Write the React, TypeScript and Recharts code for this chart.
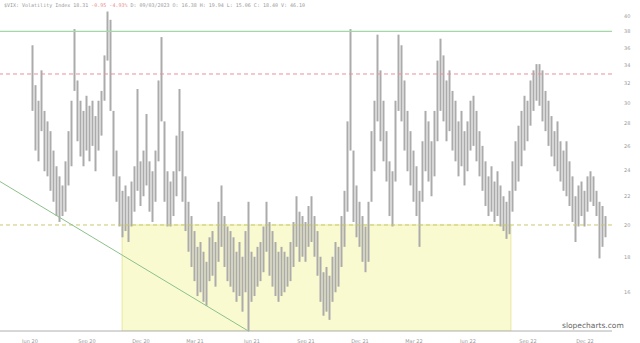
import { ComposedChart, Bar, XAxis, YAxis, ReferenceLine, ReferenceArea } from 'recharts'

// daily ranges, one bar per slot (low / high)
const lows = [
  29.2, 25.6, 24.7, 27.3, 23.9, 23.5, 22.4, 21.6, 20.6, 20.2, 20.6, 20.9, 22.8, 24.3, 31.2, 26.4,
  25.1, 24.3, 25.6, 24.7, 26.0, 23.9, 25.6, 26.9, 30.2, 34.5, 29.2, 23.5, 21.6, 19.9, 19.2, 19.6,
  18.9, 19.9, 20.9, 22.4, 21.3, 22.0, 22.8, 20.9, 20.2, 21.6, 24.7, 28.2, 21.6, 19.9, 19.9, 20.6,
  22.0, 23.9, 21.6, 19.6, 18.3, 17.4, 16.6, 15.8, 16.0, 15.5, 15.3, 16.6, 16.9, 16.3, 17.7, 18.6,
  17.4, 16.6, 16.3, 16.0, 15.5, 15.8, 15.0, 16.0, 14.0, 15.5, 15.8, 16.3, 16.6, 17.1, 18.3, 16.9,
  16.3, 15.8, 15.5, 15.8, 16.0, 16.3, 16.6, 17.4, 18.6, 17.7, 18.0, 17.7, 18.6, 18.9, 18.0, 16.9,
  15.5, 14.8, 15.0, 14.6, 15.5, 16.0, 16.3, 17.4, 18.6, 20.9, 25.6, 20.2, 19.2, 18.6, 17.7, 17.1,
  17.7, 21.6, 23.9, 28.2, 26.4, 24.7, 23.1, 20.6, 19.9, 23.1, 29.2, 28.2, 25.6, 23.9, 22.8, 21.6,
  20.6, 18.6, 21.6, 23.9, 23.1, 22.0, 23.5, 26.4, 29.2, 28.2, 26.4, 27.3, 25.6, 24.7, 23.5, 24.3,
  22.8, 23.9, 25.6, 26.0, 24.7, 23.5, 22.4, 21.3, 20.6, 20.9, 20.2, 20.6, 19.9, 19.6, 19.1, 19.4,
  20.9, 22.4, 23.1, 24.3, 25.6, 26.4, 27.8, 29.2, 30.2, 29.7, 28.2, 27.3, 26.0, 25.1, 24.3, 23.9,
  23.1, 22.4, 22.0, 21.3, 20.2, 18.9, 19.9, 20.6, 19.9, 20.9, 21.6, 21.3, 20.6, 17.9, 18.6, 19.2,
]
const highs = [
  36.3, 31.8, 30.2, 33.4, 29.2, 28.2, 27.3, 25.6, 24.3, 23.5, 22.8, 24.7, 27.3, 30.2, 38.3, 32.3,
  30.2, 29.2, 30.7, 29.7, 30.2, 28.7, 30.2, 31.2, 35.1, 40.6, 39.5, 29.2, 25.6, 23.5, 22.4, 22.8,
  22.0, 23.1, 24.3, 31.4, 24.7, 25.6, 28.9, 24.7, 23.9, 25.6, 32.3, 37.3, 28.2, 23.9, 23.1, 23.9,
  26.9, 31.4, 27.3, 23.5, 21.6, 20.6, 19.6, 18.6, 18.9, 18.3, 17.7, 19.2, 19.6, 18.9, 21.6, 22.8,
  20.6, 19.9, 19.6, 19.2, 18.3, 18.9, 18.0, 19.6, 21.6, 18.3, 18.0, 18.6, 18.9, 19.9, 21.6, 20.2,
  19.6, 18.9, 18.3, 18.6, 18.3, 18.0, 18.9, 20.2, 22.0, 20.9, 20.6, 20.2, 21.3, 22.0, 20.6, 19.6,
  18.0, 17.1, 17.4, 16.9, 18.0, 18.9, 18.6, 20.6, 22.4, 28.2, 38.3, 25.6, 22.8, 21.6, 20.6, 19.9,
  21.6, 27.3, 30.2, 37.6, 33.4, 30.2, 27.3, 24.7, 23.9, 30.2, 37.6, 36.3, 32.3, 29.2, 27.3, 25.6,
  24.3, 22.4, 26.4, 29.2, 28.2, 26.4, 29.2, 34.5, 37.1, 35.1, 32.3, 33.4, 31.2, 30.2, 28.2, 29.2,
  27.3, 28.2, 30.2, 30.7, 29.2, 27.3, 26.0, 24.7, 23.5, 24.3, 23.1, 23.9, 22.8, 22.0, 21.6, 22.4,
  24.7, 26.4, 27.8, 29.2, 30.7, 30.2, 32.3, 33.4, 34.1, 34.1, 33.4, 31.2, 30.2, 28.7, 27.3, 28.2,
  26.4, 25.6, 26.4, 24.7, 23.5, 22.0, 22.8, 23.1, 22.4, 23.5, 23.9, 23.5, 22.4, 21.6, 21.3, 20.6,
]

// x-axis labels, placed at the bar slot where each month starts
const tickSlots = [-1, 18, 36, 54, 73, 91, 109, 127, 145, 165, 184]
const tickNames = ['Jun 20', 'Sep 20', 'Dec 20', 'Mar 21', 'Jun 21', 'Sep 21', 'Dec 21', 'Mar 22', 'Jun 22', 'Sep 22', 'Dec 22']
const yTicks = [16, 18, 20, 22, 24, 26, 28, 30, 32, 34, 36, 38, 40]

// drawn studies
const resistance = 38
const upperLevel = 33
const supportLevel = 20
const zoneFrom = 29.7
const zoneTo = 159.3
const trendFrom = { x: -11, y: 23.1 }
const trendTo = { x: 72, y: 14.05 }

const Y_MIN = 14.07
const Y_MAX = 42.18
const X_MIN = -11
const X_MAX = 193

const data = lows.map((lo, i) => ({ i, range: [lo, highs[i]] }))

const tiny = { fontSize: 5, fill: '#9a9a9a', fontFamily: 'DejaVu Sans' }

export default function App() {
  return (
    <div style={{ position: 'fixed', left: 0, top: 0, width: 640, height: 343, background: '#fff' }}>
      <ComposedChart width={640} height={343} data={data} margin={{ top: 0, right: 0, left: 0, bottom: 0 }}>
        <XAxis
          dataKey="i"
          type="number"
          domain={[X_MIN, X_MAX]}
          allowDataOverflow
          ticks={tickSlots}
          interval={0}
          tickFormatter={(v) => tickNames[tickSlots.indexOf(v)] ?? ''}
          tick={tiny}
          tickLine={false}
          axisLine={{ stroke: '#b0b0b0' }}
          height={12}
        />
        <YAxis
          orientation="right"
          scale="log"
          domain={[Y_MIN, Y_MAX]}
          allowDataOverflow
          ticks={yTicks}
          interval={0}
          tick={tiny}
          tickLine={false}
          axisLine={false}
          width={28}
          tickMargin={6}
        />
        <Bar dataKey="range" fill="#ababab" barSize={2} isAnimationActive={false} />
        <ReferenceArea
          x1={zoneFrom}
          x2={zoneTo}
          y1={Y_MIN}
          y2={supportLevel}
          fill="#eeee66"
          fillOpacity={0.3}
          stroke="#e8e8a0"
          strokeWidth={1}
          ifOverflow="hidden"
        />
        <ReferenceLine y={resistance} stroke="#a3d8a3" strokeWidth={1.2} ifOverflow="visible" />
        <ReferenceLine y={upperLevel} stroke="#e8909c" strokeDasharray="4 3" strokeWidth={1} />
        <ReferenceLine y={supportLevel} stroke="#c8c870" strokeDasharray="4 3" strokeWidth={1} />
        <ReferenceLine segment={[trendFrom, trendTo]} stroke="#8cc08c" strokeWidth={1} ifOverflow="visible" />
      </ComposedChart>
      <div
        style={{
          position: 'absolute',
          left: 4,
          top: 2,
          fontFamily: 'DejaVu Sans Mono',
          fontSize: 5,
          color: '#9a9a9a',
          whiteSpace: 'nowrap',
        }}
      >
        $VIX: Volatility Index 18.31 <span style={{ color: '#e89090' }}>-0.95 -4.93%</span> D: 09/03/2023 O: 16.38 H:
        19.94 L: 15.06 C: 18.40 V: 46.10
      </div>
      <div
        style={{
          position: 'absolute',
          left: 562,
          top: 321,
          fontFamily: 'DejaVu Sans',
          fontSize: 7.5,
          color: '#666',
        }}
      >
        slopecharts.com
      </div>
    </div>
  )
}
